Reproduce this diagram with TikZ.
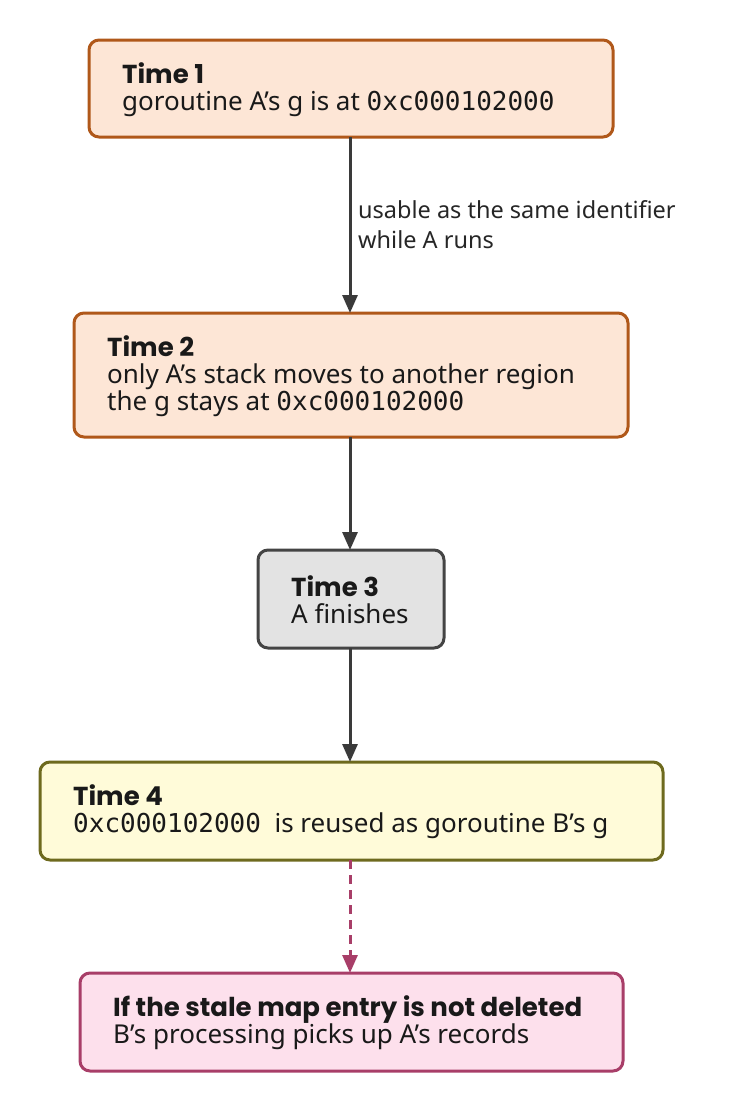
\documentclass[tikz,border=0pt]{standalone}
\usepackage{fontspec}
\defaultfontfeatures{}
\setmainfont{Noto Sans}
\newfontfamily\titlefont{Poppins}[UprightFont=*-Bold]
\setmonofont{DejaVu Sans Mono}
\usetikzlibrary{arrows.meta}
\definecolor{orF}{HTML}{FDE6D6}\definecolor{orD}{HTML}{B0581A}
\definecolor{grF}{HTML}{E3E3E3}\definecolor{grD}{HTML}{444444}
\definecolor{yeF}{HTML}{FFFBD9}\definecolor{yeD}{HTML}{6E6A1E}
\definecolor{piF}{HTML}{FDE0EC}\definecolor{piD}{HTML}{A83E68}
\definecolor{ar}{HTML}{3A3A3A}
\begin{document}
\begin{tikzpicture}[x=1pt,y=-1pt,
 box/.style={draw,line width=3pt,rounded corners=10pt},
 txt/.style={anchor=west,align=left,font=\fontsize{26}{27}\selectfont,inner sep=0pt,text=black!90},
 arr/.style={draw=ar,line width=3pt,-{Triangle[length=18pt,width=15pt]}}]
\useasboundingbox (0,0) rectangle (738,1112);
\draw[box,fill=orF,draw=orD] (89,40) rectangle (613,137);
\coordinate (b1s) at (350,137);
\node[txt] (t1) at (122,90) {{\titlefont Time 1}\\goroutine A's g is at \texttt{0xc000102000}};
\draw[box,fill=orF,draw=orD] (74,313) rectangle (628,437);
\coordinate (b2n) at (350,313);\coordinate (b2s) at (350,437);
\node[txt] (t2) at (107,376) {{\titlefont Time 2}\\only A's stack moves to another region\\the g stays at \texttt{0xc000102000}};
\draw[box,fill=grF,draw=grD] (258,550) rectangle (444,648);
\coordinate (b3n) at (350,550);\coordinate (b3s) at (350,648);
\node[txt] (t3) at (291,600) {{\titlefont Time 3}\\A finishes};
\draw[box,fill=yeF,draw=yeD] (40,762) rectangle (663,860);
\coordinate (b4n) at (350,762);\coordinate (b4s) at (350,860);
\node[txt] (t4) at (73,812) {{\titlefont Time 4}\\\texttt{0xc000102000}\ \ is reused as goroutine B's g};
\draw[box,fill=piF,draw=piD] (80,973) rectangle (623,1071);
\coordinate (b5n) at (350,973);
\node[txt] (t5) at (113,1023) {{\titlefont If the stale map entry is not deleted}\\B's processing picks up A's records};
\draw[arr] (b1s) -- (b2n);
\node[anchor=west,align=left,font=\fontsize{23.5}{30}\selectfont,inner sep=0pt,text=black!85] (l1) at (358,225) {usable as the same identifier\\while A runs};
\draw[arr] (b2s) -- (b3n);
\draw[arr] (b3s) -- (b4n);
\draw[draw=piD,line width=3pt,dash pattern=on 9pt off 6pt,-{Triangle[length=18pt,width=15pt]}] (b4s) -- (b5n);
\end{tikzpicture}
\end{document}
